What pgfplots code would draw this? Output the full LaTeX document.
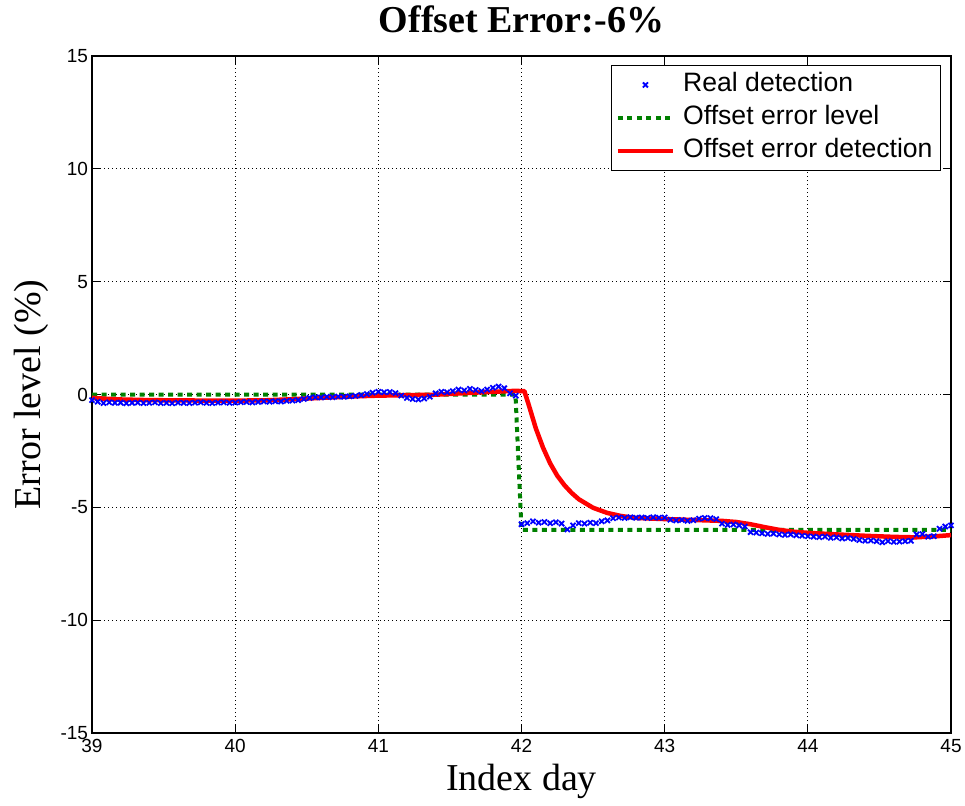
\documentclass[border=0pt]{standalone}
\usepackage{fontspec}
\setmainfont{Liberation Serif}
\setsansfont{Liberation Sans}
\usepackage{pgfplots}
\pgfplotsset{compat=1.18}

\definecolor{mblue}{RGB}{0,0,255}
\definecolor{mgreen}{RGB}{0,128,0}
\definecolor{mred}{RGB}{255,0,0}

\begin{document}
\begin{tikzpicture}
\begin{axis}[
  name=ax,
  at={(0,0)}, anchor=south west,
  scale only axis,
  width=859bp, height=677bp,
  xmin=39, xmax=45, ymin=-15, ymax=15,
  xtick={39,40,41,42,43,44,45},
  xticklabels={39,40,41,42,43,44,45},
  ytick={-15,-10,-5,0,5,10,15},
  yticklabels={-15,-10,-5,0,5,10,15},
  tick label style={font=\sffamily\fontsize{19bp}{19bp}\selectfont},
  xticklabel style={yshift=-3bp},
  yticklabel style={xshift=-0.5bp},
  tick align=inside,
  major tick length=8bp,
  major tick style={black, line width=0.9bp},
  axis line style={black, line width=1.2bp},
  grid=major,
  major grid style={black, line width=0.8bp, dash pattern=on 1bp off 3bp},
  clip=false,
  title={\bfseries Offset Error:-6\%},
  title style={at={(rel axis cs:0.5,1.0266)}, anchor=base,
    font=\fontsize{38bp}{38bp}\selectfont},
  xlabel={Index day},
  xlabel style={at={(rel axis cs:0.5,-0.0842)}, anchor=base,
    font=\fontsize{38bp}{38bp}\selectfont},
  ylabel={Error level (\%)},
  every axis y label/.style={at={(rel axis cs:-0.060,0.5)}, rotate=90, anchor=base,
    font=\fontsize{38bp}{38bp}\selectfont},
  legend image code/.code={\draw[mark repeat=2,mark phase=2,#1]
    plot coordinates {(0bp,0bp) (27.5bp,0bp) (55bp,0bp)};},
  legend cell align=left,
  legend style={at={(rel axis cs:0.98836,0.98671)}, anchor=north east,
    draw=black, line width=0.9bp, fill=white,
    inner xsep=4bp, inner ysep=3bp, row sep=0bp,
    font=\sffamily\fontsize{26.6bp}{26.6bp}\selectfont,
    nodes={text height=20bp, text depth=7bp, inner ysep=3bp, inner xsep=4bp},
    /tikz/every odd column/.append style={column sep=4bp}},
]

% hourly detections
\addplot[only marks, mark=x, mark size=3.6bp, mblue, line width=1.8bp] table {
x y
39.00 -0.25
39.04 -0.32
39.08 -0.38
39.12 -0.35
39.16 -0.37
39.20 -0.36
39.24 -0.39
39.28 -0.37
39.32 -0.36
39.36 -0.38
39.40 -0.37
39.44 -0.35
39.48 -0.38
39.52 -0.37
39.56 -0.39
39.60 -0.36
39.64 -0.37
39.68 -0.38
39.72 -0.36
39.76 -0.35
39.80 -0.37
39.84 -0.38
39.88 -0.36
39.92 -0.35
39.96 -0.37
40.00 -0.36
40.04 -0.34
40.08 -0.33
40.12 -0.35
40.16 -0.33
40.20 -0.31
40.24 -0.32
40.28 -0.30
40.32 -0.31
40.36 -0.28
40.40 -0.27
40.44 -0.25
40.48 -0.20
40.52 -0.15
40.56 -0.12
40.60 -0.13
40.64 -0.10
40.68 -0.12
40.72 -0.09
40.76 -0.10
40.80 -0.08
40.84 -0.06
40.88 -0.03
40.92 0.02
40.96 0.08
41.00 0.12
41.04 0.10
41.08 0.11
41.12 0.06
41.16 -0.05
41.20 -0.15
41.24 -0.20
41.28 -0.22
41.32 -0.18
41.36 -0.10
41.40 0.05
41.44 0.12
41.48 0.10
41.52 0.15
41.56 0.22
41.60 0.18
41.64 0.25
41.68 0.20
41.72 0.15
41.76 0.22
41.80 0.30
41.84 0.35
41.88 0.28
41.92 0.05
41.96 -0.05
42.00 -5.75
42.04 -5.70
42.08 -5.62
42.12 -5.68
42.16 -5.65
42.20 -5.70
42.24 -5.66
42.28 -5.72
42.32 -5.98
42.36 -5.80
42.40 -5.70
42.44 -5.72
42.48 -5.68
42.52 -5.70
42.56 -5.62
42.60 -5.58
42.64 -5.48
42.68 -5.45
42.72 -5.47
42.76 -5.44
42.80 -5.46
42.84 -5.45
42.88 -5.47
42.92 -5.44
42.96 -5.46
43.00 -5.45
43.04 -5.55
43.08 -5.58
43.12 -5.56
43.16 -5.60
43.20 -5.57
43.24 -5.50
43.28 -5.47
43.32 -5.48
43.36 -5.52
43.40 -5.72
43.44 -5.78
43.48 -5.76
43.52 -5.80
43.56 -5.85
43.60 -6.10
43.64 -6.12
43.68 -6.15
43.72 -6.18
43.76 -6.16
43.80 -6.20
43.84 -6.22
43.88 -6.20
43.92 -6.24
43.96 -6.26
44.00 -6.28
44.04 -6.30
44.08 -6.32
44.12 -6.30
44.16 -6.35
44.20 -6.33
44.24 -6.38
44.28 -6.36
44.32 -6.40
44.36 -6.45
44.40 -6.48
44.44 -6.47
44.48 -6.50
44.52 -6.55
44.56 -6.50
44.60 -6.53
44.64 -6.52
44.68 -6.50
44.72 -6.48
44.76 -6.20
44.80 -6.18
44.84 -6.30
44.88 -6.28
44.92 -5.95
44.96 -5.85
45.00 -5.80
};
\addlegendentry{Real detection}

% injected offset level
\addplot[mgreen, line width=4bp, dash pattern=on 5bp off 4.5bp] table {
x y
39.000 0
41.958 0
42.000 -6
45.000 -6
};
\addlegendentry{Offset error level}

% estimated offset
\addplot[mred, line width=4.5bp, line join=round] table {
x y
39.00 -0.15
39.10 -0.19
39.20 -0.22
39.40 -0.25
39.60 -0.26
39.80 -0.27
40.00 -0.27
40.20 -0.26
40.40 -0.21
40.60 -0.15
40.80 -0.09
41.00 -0.05
41.20 -0.03
41.40 -0.01
41.60 0.06
41.80 0.12
41.95 0.16
42.02 0.15
42.05 -0.45
42.10 -1.50
42.15 -2.35
42.20 -3.05
42.25 -3.60
42.30 -4.02
42.35 -4.36
42.40 -4.64
42.50 -5.02
42.60 -5.25
42.70 -5.39
42.80 -5.47
43.00 -5.52
43.20 -5.56
43.40 -5.60
43.50 -5.65
43.60 -5.75
43.70 -5.88
43.80 -6.00
43.90 -6.08
44.00 -6.13
44.20 -6.20
44.40 -6.26
44.60 -6.31
44.75 -6.33
44.90 -6.28
45.00 -6.23
};
\addlegendentry{Offset error detection}
\end{axis}
\pgfresetboundingbox
\path ([shift={(-92bp,-72bp)}]ax.south west) rectangle ([shift={(14bp,56bp)}]ax.north east);
\end{tikzpicture}
\end{document}
